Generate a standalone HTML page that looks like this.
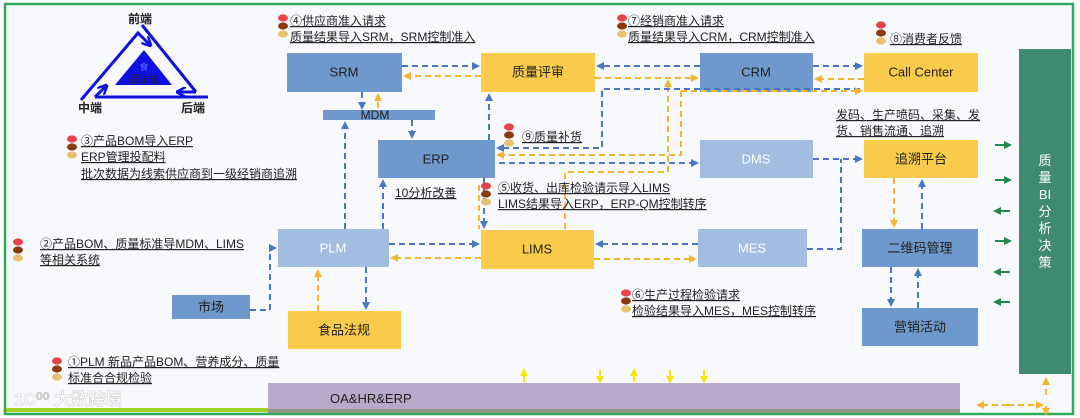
<!DOCTYPE html>
<html><head><meta charset="utf-8"><style>
html,body{margin:0;padding:0;background:#fff;}
svg{display:block;font-family:"Liberation Sans","Noto Sans CJK SC",sans-serif;}
.t{font-size:12px;fill:#222;text-decoration:underline;}
.bx{font-size:13px;fill:#222;text-anchor:middle;dominant-baseline:central;}
.bw{font-size:13px;fill:#fff;text-anchor:middle;dominant-baseline:central;}
.b{stroke:#4a78c0;stroke-width:2;stroke-dasharray:6,4;fill:none;}
.y{stroke:#f2b630;stroke-width:2;stroke-dasharray:6,4;fill:none;}
</style></head><body>
<svg width="1080" height="418" viewBox="0 0 1080 418" xmlns="http://www.w3.org/2000/svg">
<defs>
<marker id="ab" markerWidth="8" markerHeight="8" refX="6" refY="4" orient="auto" markerUnits="userSpaceOnUse"><path d="M0,0 L8,4 L0,8 z" fill="#4a78c0"/></marker>
<marker id="ay" markerWidth="8" markerHeight="8" refX="6" refY="4" orient="auto" markerUnits="userSpaceOnUse"><path d="M0,0 L8,4 L0,8 z" fill="#f2b630"/></marker>
<marker id="ayy" markerWidth="8" markerHeight="8" refX="6" refY="4" orient="auto" markerUnits="userSpaceOnUse"><path d="M0,0 L8,4 L0,8 z" fill="#f5e800"/></marker>
<marker id="ag" markerWidth="8" markerHeight="8" refX="6" refY="4" orient="auto" markerUnits="userSpaceOnUse"><path d="M0,0 L8,4 L0,8 z" fill="#1f8a50"/></marker>
<marker id="at" markerWidth="10" markerHeight="10" refX="8" refY="5" orient="auto" markerUnits="userSpaceOnUse"><path d="M0,0 L10,5 L0,10" fill="none" stroke="#1010e0" stroke-width="2.5"/></marker>
<symbol id="tl" viewBox="0 0 12 26"><ellipse cx="6" cy="4" rx="5" ry="3.6" fill="#e8424a"/><ellipse cx="6" cy="12" rx="5" ry="3.6" fill="#8b3a10"/><ellipse cx="6" cy="20" rx="5" ry="3.6" fill="#e8c070"/></symbol>
</defs>
<rect x="0" y="0" width="1080" height="418" fill="#fff"/>
<rect x="5" y="4" width="1068" height="410" fill="#f8f9fd" stroke="#2eaa5a" stroke-width="2.5"/>

<!-- triangle -->
<g stroke="#1010e0" stroke-width="3" fill="none">
<path d="M142,25 L196,92"/>
<path d="M95,97 L208,97"/>
<path d="M81,100 L138,33 L150,45" marker-end="url(#at)"/>
<path d="M196,92 L178,92" marker-end="url(#at)"/>
<path d="M95,97 L106,86" marker-end="url(#at)"/>
</g>
<path d="M144,50 L115,85 L172,85 z" fill="#1010e0"/>
<text x="144" y="70" font-size="9" fill="#6070ff" text-anchor="middle">食</text>
<text x="144" y="83" font-size="10" fill="#222" text-anchor="middle">品法规</text>
<text x="140" y="23" font-size="12" font-weight="bold" fill="#222" text-anchor="middle">前端</text>
<text x="90" y="112" font-size="12" font-weight="bold" fill="#222" text-anchor="middle">中端</text>
<text x="193" y="112" font-size="12" font-weight="bold" fill="#222" text-anchor="middle">后端</text>

<!-- boxes -->
<rect x="287" y="53" width="115" height="39" fill="#6f98cc"/><text class="bx" x="344" y="72">SRM</text>
<rect x="481" y="53" width="114" height="39" fill="#f8cb4a"/><text class="bx" x="538" y="72">质量评审</text>
<rect x="700" y="53" width="113" height="39" fill="#6f98cc"/><text class="bx" x="756" y="72">CRM</text>
<rect x="864" y="53" width="114" height="39" fill="#f8cb4a"/><text class="bx" x="921" y="72">Call Center</text>
<rect x="323" y="110" width="112" height="10" fill="#6f98cc"/><text class="bx" x="375" y="115" style="font-size:12px">MDM</text>
<rect x="378" y="140" width="117" height="38" fill="#6f98cc"/><text class="bx" x="436" y="159">ERP</text>
<rect x="700" y="140" width="113" height="38" fill="#a3bde0"/><text class="bw" x="756" y="159">DMS</text>
<rect x="864" y="140" width="114" height="38" fill="#f8cb4a"/><text class="bx" x="921" y="159">追溯平台</text>
<rect x="278" y="229" width="111" height="38" fill="#a3bde0"/><text class="bw" x="333" y="248">PLM</text>
<rect x="481" y="230" width="113" height="39" fill="#f8cb4a"/><text class="bx" x="537" y="249">LIMS</text>
<rect x="698" y="229" width="109" height="38" fill="#a3bde0"/><text class="bw" x="752" y="248">MES</text>
<rect x="862" y="229" width="116" height="38" fill="#6f98cc"/><text class="bx" x="920" y="248">二维码管理</text>
<rect x="862" y="308" width="116" height="38" fill="#6f98cc"/><text class="bx" x="920" y="327">营销活动</text>
<rect x="172" y="295" width="78" height="24" fill="#6f98cc"/><text class="bx" x="211" y="307">市场</text>
<rect x="288" y="311" width="113" height="38" fill="#f8cb4a"/><text class="bx" x="344" y="330">食品法规</text>
<rect x="1019" y="49" width="52" height="325" fill="#3f8a70"/>
<text x="1045" y="165" font-size="13" fill="#fff" text-anchor="middle"><tspan x="1045" dy="0">质</tspan><tspan x="1045" dy="17">量</tspan><tspan x="1045" dy="17">BI</tspan><tspan x="1045" dy="17">分</tspan><tspan x="1045" dy="17">析</tspan><tspan x="1045" dy="17">决</tspan><tspan x="1045" dy="17">策</tspan></text>
<rect x="268" y="383" width="692" height="30" fill="#b8a9cc"/>
<rect x="268" y="409" width="692" height="4" fill="#7a8a50" opacity="0.6"/>
<rect x="6" y="408" width="262" height="4" fill="#a0d020"/>
<text x="330" y="403" font-size="13" fill="#222">OA&amp;HR&amp;ERP</text>
<text x="14" y="405" font-size="17" font-weight="bold" fill="#fff" stroke="#ccc" stroke-width="0.5">1C⁰⁰ 大数跨境</text>

<!-- connectors -->
<path class="b" d="M402,66 L478,66" marker-end="url(#ab)"/>
<path class="y" d="M481,76 L405,76" marker-end="url(#ay)"/>
<path class="b" d="M700,66 L598,66" marker-end="url(#ab)"/>
<path class="y" d="M595,78 L697,78" marker-end="url(#ay)"/>
<path class="b" d="M813,66 L861,66" marker-end="url(#ab)"/>
<path class="y" d="M864,79 L816,79" marker-end="url(#ay)"/>
<path class="y" d="M565,229 L565,172 L668,172 L668,81" marker-end="url(#ay)"/>
<path class="b" d="M860,89 L602,89 L602,148 L498,148" marker-end="url(#ab)"/>
<path class="y" d="M681,91 L861,91" marker-end="url(#ay)"/>
<path class="y" d="M681,91 L681,155 L498,155" marker-end="url(#ay)"/>
<path class="b" d="M499,163 L697,163" marker-end="url(#ab)"/>
<path class="b" d="M813,159 L861,159" marker-end="url(#ab)"/>
<path class="b" d="M807,249 L841,249 L841,159"/>
<path class="y" d="M894,178 L894,226" marker-end="url(#ay)"/>
<path class="b" d="M922,229 L922,181" marker-end="url(#ab)"/>
<path class="b" d="M891,267 L891,305" marker-end="url(#ab)"/>
<path class="b" d="M918,308 L918,270" marker-end="url(#ab)"/>
<path class="b" d="M389,244 L478,244" marker-end="url(#ab)"/>
<path class="y" d="M481,258 L392,258" marker-end="url(#ay)"/>
<path class="b" d="M698,244 L597,244" marker-end="url(#ab)"/>
<path class="y" d="M594,259 L695,259" marker-end="url(#ay)"/>
<path class="b" d="M345,229 L345,123" marker-end="url(#ab)"/>
<path class="b" d="M383,229 L383,181" marker-end="url(#ab)"/>
<path class="b" d="M362,92 L362,108" marker-end="url(#ab)"/>
<path class="y" d="M378,108 L378,95" marker-end="url(#ay)"/>
<path class="b" d="M412,120 L412,137" marker-end="url(#ab)"/>
<path class="b" d="M489,140 L489,95" marker-end="url(#ab)"/>
<path class="b" d="M484,178 L484,227" marker-end="url(#ab)"/>
<path class="y" d="M479,185 L479,229"/>
<path class="b" d="M366,267 L366,308" marker-end="url(#ab)"/>
<path class="y" d="M318,311 L318,271" marker-end="url(#ay)"/>
<path class="b" d="M250,310 L270,310 L270,248 L275,248" marker-end="url(#ab)"/>
<g stroke="#1f8a50" stroke-width="2" fill="none">
<path d="M995,145 L1010,145" marker-end="url(#ag)"/>
<path d="M995,180 L1010,180" marker-end="url(#ag)"/>
<path d="M1010,211 L995,211" marker-end="url(#ag)"/>
<path d="M995,241 L1010,241" marker-end="url(#ag)"/>
<path d="M1010,272 L995,272" marker-end="url(#ag)"/>
<path d="M1010,302 L995,302" marker-end="url(#ag)"/>
</g>
<g stroke="#f5e800" stroke-width="2" fill="none">
<path d="M524,382 L524,370" marker-end="url(#ayy)"/>
<path d="M600,370 L600,382" marker-end="url(#ayy)"/>
<path d="M634,382 L634,370" marker-end="url(#ayy)"/>
<path d="M670,370 L670,382" marker-end="url(#ayy)"/>
<path d="M704,370 L704,382" marker-end="url(#ayy)"/>
</g>
<path class="y" d="M1008,405 L978,405" marker-end="url(#ay)"/>
<path class="y" d="M1008,405 L1042,405" marker-end="url(#ay)"/>
<path class="y" d="M1046,395 L1046,379" marker-end="url(#ay)"/>
<path class="y" d="M1046,406 L1046,414" marker-end="url(#ay)"/>

<!-- annotations -->
<use href="#tl" x="277" y="14" width="12" height="26"/>
<text class="t" x="290" y="25">④供应商准入请求</text>
<text class="t" x="290" y="41">质量结果导入SRM，SRM控制准入</text>
<use href="#tl" x="616" y="14" width="12" height="26"/>
<text class="t" x="628" y="25">⑦经销商准入请求</text>
<text class="t" x="628" y="41">质量结果导入CRM，CRM控制准入</text>
<use href="#tl" x="875" y="21" width="12" height="26"/>
<text class="t" x="890" y="43">⑧消费者反馈</text>
<use href="#tl" x="66" y="135" width="12" height="26"/>
<text class="t" x="81" y="145">③产品BOM导入ERP</text>
<text class="t" x="81" y="161">ERP管理投配料</text>
<text class="t" x="81" y="178">批次数据为线索供应商到一级经销商追溯</text>
<use href="#tl" x="503" y="123" width="12" height="26"/>
<text class="t" x="522" y="141">⑨质量补货</text>
<text class="t" x="395" y="197">10分析改善</text>
<use href="#tl" x="480" y="182" width="12" height="26"/>
<text class="t" x="498" y="192">⑤收货、出库检验请示导入LIMS</text>
<text class="t" x="498" y="208">LIMS结果导入ERP，ERP-QM控制转序</text>
<use href="#tl" x="12" y="238" width="12" height="26"/>
<text class="t" x="40" y="248">②产品BOM、质量标准导MDM、LIMS</text>
<text class="t" x="40" y="264">等相关系统</text>
<text class="t" x="836" y="119">发码、生产喷码、采集、发</text>
<text class="t" x="836" y="135">货、销售流通、追溯</text>
<use href="#tl" x="620" y="289" width="12" height="26"/>
<text class="t" x="632" y="299">⑥生产过程检验请求</text>
<text class="t" x="632" y="315">检验结果导入MES，MES控制转序</text>
<use href="#tl" x="51" y="357" width="12" height="26"/>
<text class="t" x="68" y="366">①PLM 新品产品BOM、营养成分、质量</text>
<text class="t" x="68" y="382">标准合合规检验</text>
</svg>
</body></html>
